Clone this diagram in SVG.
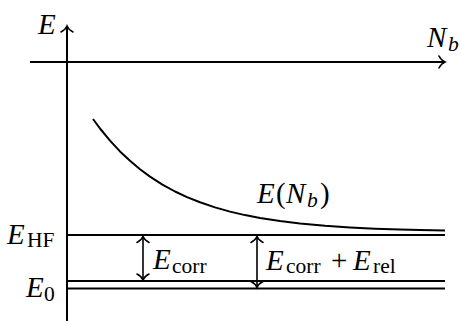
<svg xmlns="http://www.w3.org/2000/svg" width="461" height="322" viewBox="0 0 461 322">
<style>
.ln{stroke:#000;fill:none;stroke-width:2}
.ar{stroke:#000;fill:none;stroke-width:1.6}
.t{font-family:"Liberation Serif","Times New Roman",serif;fill:#000}
.m{font-size:29px;font-style:italic}
.s{font-size:21.5px}
.si{font-size:21.5px;font-style:italic}
.u{font-size:29px}
</style>
<defs>
<marker id="tip" viewBox="-8 -8 10 16" markerWidth="10" markerHeight="16" refX="0" refY="0" orient="auto-start-reverse" markerUnits="userSpaceOnUse">
<path d="M-6,-6 C-4.5,-3 -2,-0.8 0,0 C-2,0.8 -4.5,3 -6,6" fill="none" stroke="#000" stroke-width="1.6" stroke-linecap="round"/>
</marker>
</defs>
<rect width="461" height="322" fill="#fff"/>
<g id="axes">
<line class="ln" x1="67" y1="321" x2="67" y2="26" marker-end="url(#tip)"/>
<line class="ln" x1="30" y1="62" x2="445" y2="62" marker-end="url(#tip)"/>
<text class="t m" x="38" y="34">E</text>
<text class="t" x="427" y="47"><tspan class="m">N</tspan><tspan class="si" x="448" y="51">b</tspan></text>
</g>
<g id="curve">
<path class="ln" stroke-linejoin="round" d="M93,119 L100,128.5 L110,140.6 L120,151.4 L130,160.8 L140,169.2 L150,176.6 L162,184.3 L175,191.5 L187,197.1 L200,202.3 L215,207.4 L230,211.6 L245,215.1 L260,218 L280,221.1 L300,223.5 L325,225.8 L350,227.4 L375,228.7 L400,229.6 L420,230.1 L445,230.6"/>
<text class="t" y="203"><tspan class="m" x="257">E</tspan><tspan class="u" x="276">(</tspan><tspan class="m" x="286">N</tspan><tspan class="si" x="307" y="207">b</tspan><tspan class="u" x="320" y="203">)</tspan></text>
</g>
<g id="levels">
<line class="ln" x1="67" y1="235" x2="445" y2="235"/>
<line class="ln" x1="67" y1="281" x2="445" y2="281"/>
<line class="ln" x1="67" y1="288.5" x2="445" y2="288.5"/>
<text class="t" y="244"><tspan class="m" x="7">E</tspan><tspan class="s" x="27" y="247">HF</tspan></text>
<text class="t" y="296.5"><tspan class="m" x="26">E</tspan><tspan class="s" x="44" y="300.5">0</tspan></text>
</g>
<g id="connectors">
<line class="ar" x1="143" y1="236.5" x2="143" y2="280" marker-start="url(#tip)" marker-end="url(#tip)"/>
<line class="ar" x1="257" y1="236.5" x2="257" y2="287.5" marker-start="url(#tip)" marker-end="url(#tip)"/>
</g>
<g id="labels">
<text class="t" y="269"><tspan class="m" x="153">E</tspan><tspan class="s" x="172" y="273">corr</tspan></text>
<text class="t" y="269.5"><tspan class="m" x="266">E</tspan><tspan class="s" x="286" y="273">corr</tspan><tspan class="u" x="331" y="269.5">+</tspan><tspan class="m" x="353">E</tspan><tspan class="s" x="373" y="273">rel</tspan></text>
</g>
</svg>
